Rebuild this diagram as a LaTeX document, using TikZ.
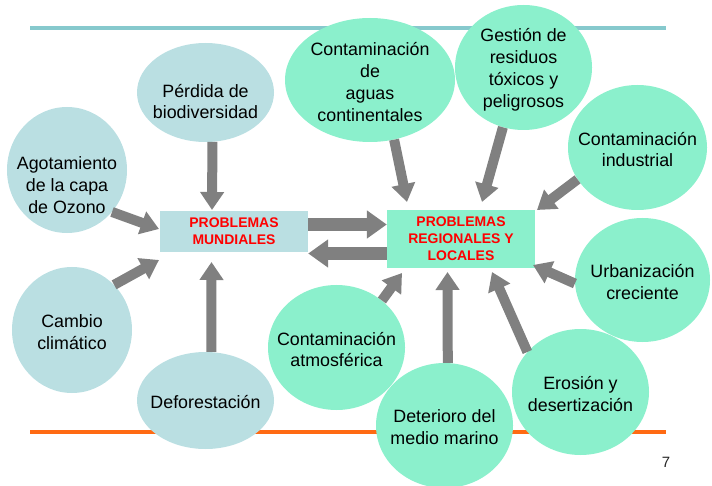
\documentclass[tikz,border=0pt]{standalone}
\usepackage{fontspec}
\setmainfont{Liberation Sans}
\usetikzlibrary{shapes.geometric,arrows.meta}
\definecolor{ellblue}{HTML}{BADFE2}
\definecolor{ellgreen}{HTML}{8BF0CC}
\definecolor{arrgray}{HTML}{808080}
\definecolor{toplinecol}{HTML}{86C9CD}
\definecolor{botlinecol}{HTML}{FF6A13}
\definecolor{probred}{HTML}{FF0000}
\begin{document}
\begin{tikzpicture}[x=1bp,y=-1bp,
  topic/.style={ellipse, inner sep=0pt},
  bluetopic/.style={topic, fill=ellblue},
  greentopic/.style={topic, fill=ellgreen},
  every label/.style={align=center, inner sep=0pt, text=black, shift={(0,2)}, font=\fontsize{17.9}{22}\selectfont},
  probbox/.style={rectangle, inner sep=0pt, align=center, text=probred, font=\bfseries\fontsize{14}{17}\selectfont},
  flow/.style={draw=arrgray, line width=10bp, -{Triangle[width=23bp,length=18bp]}},
  bigflow/.style={draw=arrgray, line width=13bp, -{Triangle[width=27bp,length=20bp]}},
  ]
\path[use as bounding box] (0,0) rectangle (712,486);

% rules
\draw[toplinecol, line width=3.5bp] (30,28) -- (666,28);
\draw[botlinecol, line width=4bp] (30,432) -- (666,432);

% left topics
\node[bluetopic, minimum width=137bp, minimum height=99bp,
  label={[shift={(0,7)}]center:{Pérdida de\\biodiversidad}}] (perd) at (205.5,92.5) {};
\node[bluetopic, minimum width=120bp, minimum height=126bp,
  label={[shift={(0,13)}]center:{Agotamiento\\de la capa\\de Ozono}}] (agot) at (67,170) {};
\node[bluetopic, minimum width=120bp, minimum height=126bp,
  label={center:{Cambio\\climático}}] (camb) at (72,330) {};
\node[bluetopic, minimum width=137bp, minimum height=97bp,
  label={center:{Deforestación}}] (defo) at (205.5,400.5) {};

% right topics
\node[greentopic, minimum width=170bp, minimum height=124bp,
  label={center:{Contaminación\\de\\aguas\\continentales}}] (aguas) at (370,80) {};
\node[greentopic, minimum width=137bp, minimum height=125bp,
  label={center:{Gestión de\\residuos\\tóxicos y\\peligrosos}}] (gest) at (523.5,67.5) {};
\node[greentopic, minimum width=139bp, minimum height=125bp,
  label={center:{Contaminación\\industrial}}] (indus) at (637.5,147.5) {};
\node[greentopic, minimum width=135bp, minimum height=124bp,
  label={center:{Urbanización\\creciente}}] (urban) at (642.5,280) {};
\node[greentopic, minimum width=137bp, minimum height=125bp,
  label={center:{Contaminación\\atmosférica}}] (atmos) at (336.5,347.5) {};
\node[greentopic, minimum width=137bp, minimum height=125bp,
  label={center:{Deterioro del\\medio marino}}] (deter) at (444.5,425.5) {};
\node[greentopic, minimum width=137bp, minimum height=126bp,
  label={center:{Erosión y\\desertización}}] (eros) at (580.5,392) {};

% central boxes
\node[probbox, fill=ellblue, minimum width=148bp, minimum height=41bp] (mund) at (234,231.5) {PROBLEMAS\\MUNDIALES};
\node[probbox, fill=ellgreen, minimum width=148bp, minimum height=58bp] (reg) at (461,239) {PROBLEMAS\\REGIONALES Y\\LOCALES};

% arrow tips
\coordinate (tPerd) at (212,210);
\coordinate (tAgot) at (159,229);
\coordinate (tCamb) at (159,260);
\coordinate (tDefo) at (211.5,262);
\coordinate (tAguas) at (407,202);
\coordinate (tGest) at (482,202);
\coordinate (tIndus) at (537,210);
\coordinate (tUrban) at (533,265);
\coordinate (tAtmos) at (402,273);
\coordinate (tDeter) at (447.5,272);
\coordinate (tEros) at (492,272);
\coordinate (yUp) at (0,224.5);
\coordinate (yDown) at (0,253.5);

% arrows
\draw[flow] (perd.-82.5) -- (tPerd);
\draw[flow] (agot.-43) -- (tAgot);
\draw[flow] (camb.47.5) -- (tCamb);
\draw[flow] (defo.83) -- (tDefo);
\draw[flow] (aguas.-68.4) -- (tAguas);
\draw[flow] (gest.-109.6) -- (tGest);
\draw[flow] (indus.-152.5) -- (tIndus);
\draw[flow] (urban.-177.5) -- (tUrban);
\draw[flow] (atmos.46.8) -- (tAtmos);
\draw[flow] (deter.87.3) -- (tDeter);
\draw[flow] (eros.143.4) -- (tEros);
\draw[bigflow] (mund.east |- yUp) -- (reg.west |- yUp);
\draw[bigflow] (reg.west |- yDown) -- (mund.east |- yDown);

% page number
\node[text=black!85, font=\fontsize{15}{18}\selectfont] (pagenum) at (666,462) {7};
\end{tikzpicture}
\end{document}
